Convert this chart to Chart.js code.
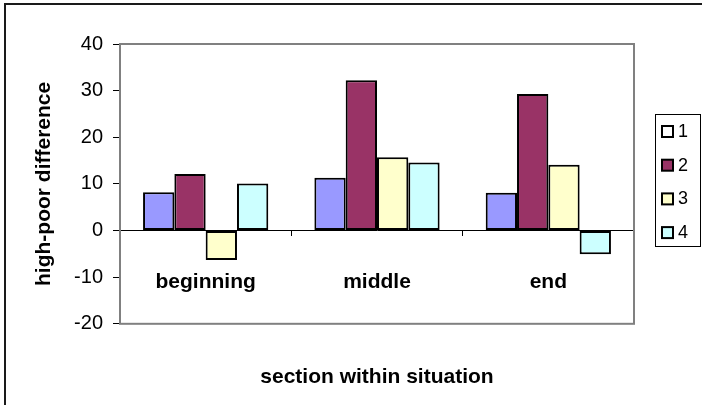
<!DOCTYPE html>
<html>
<head>
<meta charset="utf-8">
<script src="https://cdn.jsdelivr.net/npm/chart.js@4.4.1/dist/chart.umd.min.js"></script>
<style>
  html, body { margin: 0; padding: 0; background: #fff; }
  #wrap { width: 702px; height: 405px; }
</style>
</head>
<body>
<div id="wrap"><canvas id="chart" width="702" height="405"></canvas></div>
<script>
// ── Datos ──────────────────────────────────────────────
const categories  = ['beginning', 'middle', 'end'];
const seriesNames = ['1', '2', '3', '4'];
const serie1 = [8.2, 11.3, 8.1];
const serie2 = [12.1, 32.2, 29.3];
const serie3 = [-6.3, 15.7, 14.1];
const serie4 = [10.1, 14.6, -5.1];
const yTicks = [-20, -10, 0, 10, 20, 30, 40];

const FONT = "'Liberation Sans', Arial, sans-serif";
const fills = ['#9999FF', '#993366', '#FFFFCC', '#CCFFFF'];
const legendFills = ['#FFFFFF', '#993366', '#FFFFCC', '#CCFFFF'];

// marcos del gráfico + leyenda propia
const framePlugin = {
  id: 'frames',
  beforeDraw(chart) {
    const ctx = chart.ctx;
    ctx.save();
    ctx.strokeStyle = '#1a1a1a';
    ctx.lineWidth = 2;
    ctx.strokeRect(5, 4, 800, 500);
    ctx.restore();
  },
  beforeDatasetsDraw(chart) {
    const { ctx, chartArea: a } = chart;
    ctx.save();
    ctx.strokeStyle = '#808080';
    ctx.lineWidth = 2;
    ctx.strokeRect(a.left, a.top, a.right - a.left, a.bottom - a.top);
    ctx.restore();
  },
  afterDraw(chart) {
    const { ctx, chartArea: a } = chart;
    const x0 = a.right + 21, top = 114, bottom = 246;
    ctx.save();
    ctx.strokeStyle = '#000';
    ctx.lineWidth = 1;
    ctx.strokeRect(x0 + 0.5, top + 0.5, 700.5 - (x0 + 0.5), bottom - top);
    ctx.font = '18px ' + FONT;
    ctx.textBaseline = 'middle';
    seriesNames.forEach((name, i) => {
      const cy = 131 + i * 33.7;
      ctx.fillStyle = legendFills[i];
      ctx.fillRect(x0 + 7, cy - 5, 11, 11);
      ctx.lineWidth = 2;
      ctx.strokeStyle = '#000';
      ctx.strokeRect(x0 + 7, cy - 5, 11, 11);
      ctx.fillStyle = '#000';
      ctx.fillText(name, x0 + 23, cy + 1);
    });
    ctx.restore();
  }
};

const ctxBar = document.getElementById('chart');
new Chart(ctxBar, {
  type: 'bar',
  data: {
    labels: categories,
    datasets: [serie1, serie2, serie3, serie4].map((d, i) => ({
      label: seriesNames[i],
      data: d,
      backgroundColor: fills[i],
      borderColor: '#000',
      borderWidth: 2,
      borderSkipped: false,
      barPercentage: 1,
      categoryPercentage: 0.731
    }))
  },
  options: {
    responsive: false,
    animation: false,
    devicePixelRatio: 1,
    layout: { padding: { left: 0, top: 44, right: 68, bottom: 0 } },
    plugins: {
      legend: { display: false },
      tooltip: { enabled: false },
      title: {
        display: true,
        position: 'bottom',
        fullSize: false,
        text: 'section within situation',
        color: '#000',
        font: { family: FONT, size: 21, weight: 'bold', lineHeight: 1.2 },
        padding: { top: 41, bottom: 15 }
      }
    },
    scales: {
      x: {
        position: { y: 0 },
        grid: { drawOnChartArea: false, drawTicks: true, tickLength: 5, color: '#000', offset: true },
        border: { display: true, color: '#000', width: 1 },
        ticks: { color: '#000', padding: 34, maxRotation: 0, font: { family: FONT, size: 21, weight: 'bold' } }
      },
      y: {
        min: -20, max: 40,
        afterBuildTicks(scale) { scale.ticks = yTicks.map(v => ({ value: v })); },
        afterFit(scale) { scale.width = 120; },
        grid: { drawOnChartArea: false, drawTicks: true, tickLength: 7, color: '#000' },
        border: { display: true, color: '#404040', width: 1 },
        ticks: { color: '#000', padding: 10, font: { family: FONT, size: 20 } },
        title: {
          display: true,
          text: 'high-poor difference',
          color: '#000',
          font: { family: FONT, size: 21, weight: 'bold', lineHeight: 1.2 },
          padding: { top: 32, bottom: 0 }
        }
      }
    }
  },
  plugins: [framePlugin]
});
</script>
</body>
</html>
